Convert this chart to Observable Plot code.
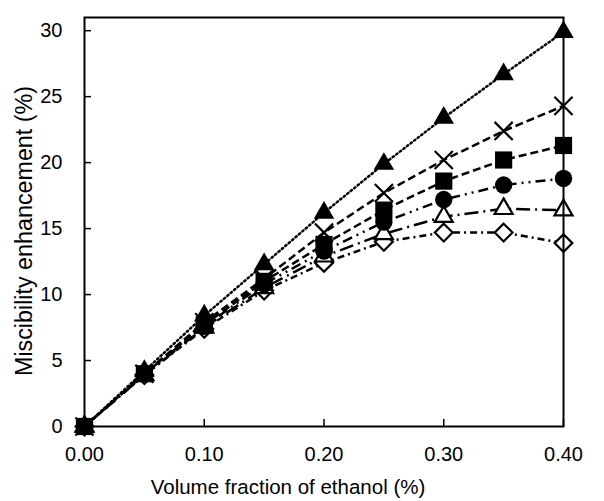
<!DOCTYPE html>
<html>
<head>
<meta charset="utf-8">
<script src="https://cdn.jsdelivr.net/npm/d3@7"></script>
<script src="https://cdn.jsdelivr.net/npm/@observablehq/plot@0.6"></script>
<style>
  html, body { margin: 0; padding: 0; background: #fff; }
  #chart { width: 604px; height: 501px; }
</style>
</head>
<body>
<div id="chart"></div>
<script>
const fractions = [0.00, 0.05, 0.10, 0.15, 0.20, 0.25, 0.30, 0.35, 0.40];
const triFilled = [0, 4.2, 8.4, 12.3, 16.2, 19.9, 23.4, 26.7, 29.9];
const cross     = [0, 4.0, 7.9, 11.2, 14.7, 17.7, 20.2, 22.4, 24.3];
const squareF   = [0, 4.0, 7.7, 11.0, 13.8, 16.4, 18.6, 20.2, 21.3];
const circleF   = [0, 4.0, 7.6, 10.8, 13.3, 15.5, 17.2, 18.3, 18.8];
const triOpen   = [0, 3.9, 7.5, 10.5, 12.9, 14.6, 15.9, 16.5, 16.4];
const diamondO  = [0, 3.9, 7.4, 10.3, 12.4, 14.0, 14.7, 14.7, 13.9];
const xTicks = [0, 0.1, 0.2, 0.3, 0.4];
const yTicks = [0, 5, 10, 15, 20, 25, 30];

const series = [
  {values: diamondO, symbol: "diamond2", r: 8.0, fill: "white", dash: "7,4,2,4"},
  {values: triOpen, symbol: "triangle2", r: 8.6, fill: "white", dash: "14,5,2,5"},
  {values: circleF, symbol: "circle", r: 8.7, fill: "black", dash: "10,5,2,5,2,5"},
  {values: squareF, symbol: "square", r: 9.7, fill: "black", dash: "8,4"},
  {values: cross, symbol: "times", r: 8.3, fill: "none", dash: "8,4"},
  {values: triFilled, symbol: "triangle", r: 7.6, fill: "black", dash: "1.5,3"}
];

const marks = [];
for (const s of series) {
  const data = fractions.map((x, i) => ({x, y: s.values[i]}));
  marks.push(Plot.line(data, {x: "x", y: "y", stroke: "black", strokeWidth: 2.5,
    strokeDasharray: s.dash, strokeLinecap: s.dash === "1.5,3" ? "round" : "butt"}));
}
for (const s of series) {
  const data = fractions.map((x, i) => ({x, y: s.values[i]}));
  marks.push(Plot.dot(data, {x: "x", y: "y", symbol: () => s.symbol, r: s.r,
    fill: s.fill, stroke: "black",
    strokeWidth: s.fill === "black" ? 0 : 2.2}));
}

const chart = Plot.plot({
  width: 604,
  height: 501,
  marginLeft: 84,
  marginRight: 41,
  marginTop: 17,
  marginBottom: 75,
  style: {fontFamily: "'Liberation Sans', Arial, sans-serif", fontSize: "20px", color: "black", background: "white"},
  symbol: {type: "identity"},
  x: {domain: [0, 0.4]},
  y: {domain: [0, 31]},
  marks: [
    Plot.axisX(xTicks, {tickSize: -7, tickPadding: 27, tickFormat: d3.format(".2f"), label: null, strokeWidth: 1.5, fontSize: 20}),
    Plot.axisY(yTicks, {tickSize: -7, tickPadding: 29, label: null, strokeWidth: 1.5, fontSize: 20}),
    Plot.text(["Volume fraction of ethanol (%)"], {frameAnchor: "bottom", textAnchor: "middle", lineAnchor: "middle", dx: -36, dy: 61, fontSize: 20.5}),
    Plot.text(["Miscibility enhancement (%)"], {frameAnchor: "left", textAnchor: "middle", lineAnchor: "middle", dx: -60, dy: 9, rotate: -90, fontSize: 23.3}),
    ...marks,
    Plot.frame({stroke: "black", strokeWidth: 2})
  ]
});
document.getElementById("chart").appendChild(chart);
</script>
</body>
</html>
